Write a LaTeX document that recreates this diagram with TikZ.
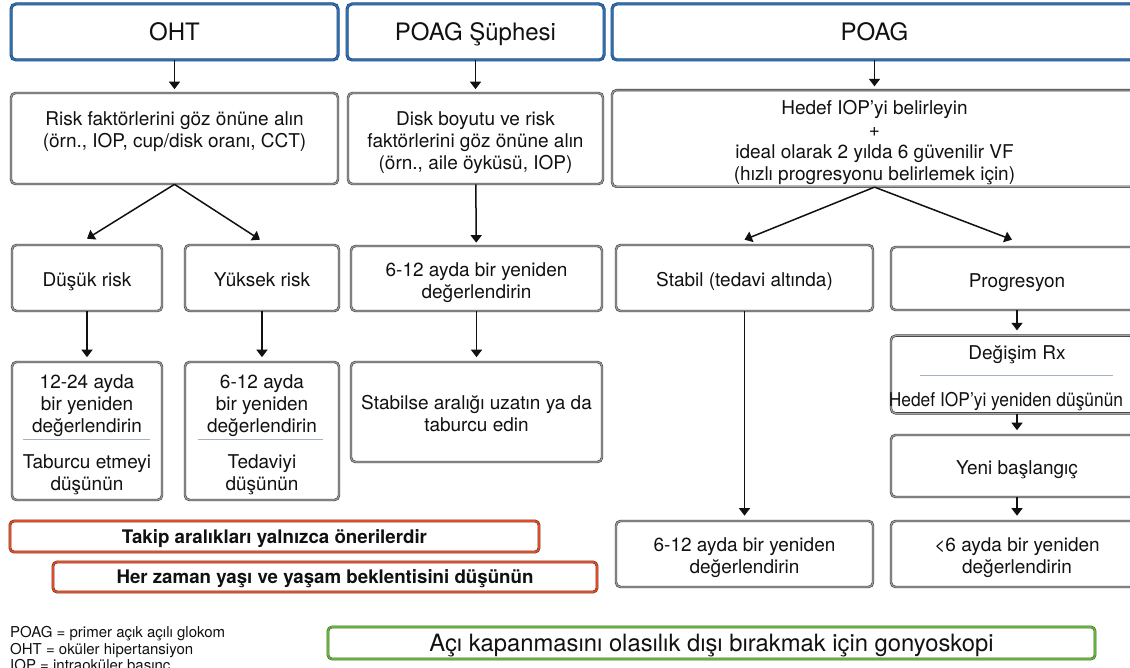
\documentclass[tikz,border=0pt]{standalone}
\usepackage{fontspec}
\usepackage{graphicx}
\setmainfont{TeX Gyre Heros}
\usetikzlibrary{arrows.meta,calc}

\definecolor{hdrout}{HTML}{1B4675}
\definecolor{hdrin}{HTML}{2E6DB0}
\definecolor{grayout}{HTML}{3E3E3E}
\definecolor{grayin}{HTML}{A4A4A4}
\definecolor{orout}{HTML}{6E2411}
\definecolor{orin}{HTML}{DE4E26}
\definecolor{gnout}{HTML}{2D6518}
\definecolor{gnin}{HTML}{68B03C}
\definecolor{sepline}{HTML}{A3B1C0}
\definecolor{ink}{HTML}{111111}

% centred lines for the grey boxes, first row padded so the text sits slightly low
\newcommand{\boxlines}[1]{\begin{tabular}{@{}c@{}}\rule{0pt}{24pt}#1\end{tabular}}

\tikzset{
  hdr/.style={draw=hdrout, double=hdrin, double distance=1.6pt, line width=0.7pt,
    rounded corners=5pt, fill=white, inner sep=0pt, text=ink,
    text height=17.2pt, text depth=0pt,
    font=\fontsize{24}{28}\selectfont},
  gbox/.style={draw=grayout, double=grayin, double distance=1.1pt, line width=0.65pt,
    rounded corners=4.5pt, fill=white, inner sep=0pt, text=ink,
    font=\fontsize{19}{22}\selectfont},
  obox/.style={draw=orout, double=orin, double distance=1.6pt, line width=0.55pt,
    rounded corners=4pt, fill=white, inner sep=0pt, text=ink,
    text height=13.5pt, text depth=0pt,
    font=\bfseries\fontsize{18.7}{22}\selectfont},
  gnbox/.style={draw=gnout, double=gnin, double distance=1.6pt, line width=0.5pt,
    rounded corners=4pt, fill=white, inner sep=0pt, text=ink,
    text height=17pt, text depth=0pt,
    font=\fontsize{23.8}{28}\selectfont},
  arr/.style={-{Triangle[length=7.5pt,width=11pt]}, line width=1.5pt, draw=ink},
  sep/.style={draw=sepline, line width=0.9pt},
  legend/.style={anchor=north west, align=left, inner sep=0pt, text=ink,
    font=\fontsize{15}{16.7}\selectfont}
}

\begin{document}
\begin{tikzpicture}[x=1pt,y=-1pt]
\useasboundingbox (0,0) rectangle (1130,668);
\clip (0,0) rectangle (1130,668);
\fill[white] (0,0) rectangle (1130,668);

% column headers
\node[hdr, minimum width=327, minimum height=56] (hOHT)  at (174.5,32) {OHT};
\node[hdr, minimum width=257, minimum height=56] (hSus)  at (475.5,32) {POAG Şüphesi};
\node[hdr, minimum width=525, minimum height=56] (hPOAG) at (874.5,32) {POAG};

% first assessment step
\node[gbox, minimum width=327, minimum height=91] (risk) at (174.5,138.5)
  {\boxlines{Risk faktörlerini göz önüne alın\\(örn., IOP, cup/disk oranı, CCT)\\\strut}};
\node[gbox, minimum width=255, minimum height=91] (disk) at (475.5,138.5)
  {\boxlines{Disk boyutu ve risk\\faktörlerini göz önüne alın\\(örn., aile öyküsü, IOP)}};
\node[gbox, minimum width=525, minimum height=91] (hedef) at (874.5,138.5)
  {\boxlines{Hedef IOP’yi belirleyin\\+\\ideal olarak 2 yılda 6 güvenilir VF\\(hızlı progresyonu belirlemek için)}};

% branches
\node[gbox, minimum width=150, minimum height=66] (dusuk)  at (87,278)    {\boxlines{Düşük risk}};
\node[gbox, minimum width=154, minimum height=66] (yuksek) at (262,278)   {\boxlines{Yüksek risk}};
\node[gbox, minimum width=251, minimum height=65] (susre)  at (476.5,278.5)
  {\boxlines{6-12 ayda bir yeniden\\değerlendirin}};
\node[gbox, minimum width=257, minimum height=66] (stabil) at (744.5,278) {\boxlines{Stabil (tedavi altında)}};
\node[gbox, minimum width=252, minimum height=63] (prog)   at (1017,278.5) {\boxlines{Progresyon}};

% follow-up boxes
\node[gbox, minimum width=150, minimum height=138] (dusuk4) at (87,431)
  {\boxlines{12-24 ayda\\bir yeniden\\değerlendirin\\[14pt]Taburcu etmeyi\\düşünün}};
\node[gbox, minimum width=154, minimum height=138] (yuksek4) at (262,431)
  {\boxlines{6-12 ayda\\bir yeniden\\değerlendirin\\[14pt]Tedaviyi\\düşünün}};
\node[gbox, minimum width=251, minimum height=100] (stabilse) at (476.5,412)
  {\boxlines{Stabilse aralığı uzatın ya da\\taburcu edin}};
\node[gbox, minimum width=252, minimum height=77] (degisim) at (1017,374.5)
  {\boxlines{Değişim Rx\\[25pt]\hspace*{-22pt}\scalebox{0.915}[1]{Hedef IOP’yi yeniden düşünün}}};
\node[gbox, minimum width=252, minimum height=62] (yeni) at (1017,466) {\boxlines{Yeni başlangıç}};
\node[gbox, minimum width=257, minimum height=66] (stabilbot) at (744.5,554)
  {\boxlines{6-12 ayda bir yeniden\\değerlendirin}};
\node[gbox, minimum width=252, minimum height=66] (alt6) at (1017,554)
  {\boxlines{\textless6 ayda bir yeniden\\değerlendirin}};

% dividers inside the split boxes
\draw[sep] ($(dusuk4.west)+(11,8)$) -- ($(dusuk4.east)+(-12,8)$);
\draw[sep] ($(yuksek4.west)+(13,8)$) -- ($(yuksek4.east)+(-16,8)$);
\draw[sep] ($(degisim.west)+(29,0.5)$) -- ($(degisim.east)+(-30,0.5)$);

% notes
\node[obox, minimum width=529, minimum height=31] (takip) at (274.5,536.5)
  {Takip aralıkları yalnızca önerilerdir};
\node[obox, minimum width=544, minimum height=30] (herzaman) at (325,577)
  {Her zaman yaşı ve yaşam beklentisini düşünün};
\node[gnbox, minimum width=767, minimum height=32] (gonyo) at (711.5,643)
  {Açı kapanmasını olasılık dışı bırakmak için gonyoskopi};

\node[legend] (abbr) at (10,626)
  {POAG = primer açık açılı glokom\\OHT = oküler hipertansiyon\\IOP = intraoküler basınç};

% connectors
\draw[arr, shorten >=3.5pt] (hOHT) -- (risk);
\draw[arr, shorten >=3.5pt] (hSus) -- (disk);
\draw[arr, shorten >=3.5pt] (hPOAG) -- (hedef);

\draw[arr] (risk.south) -- ([yshift=6pt]dusuk.north);
\draw[arr] (risk.south) -- ([xshift=-2pt,yshift=5pt]yuksek.north);
\draw[arr, shorten >=4.5pt] (dusuk) -- (dusuk4);
\draw[arr, shorten >=4.5pt] (yuksek) -- (yuksek4);

\draw[arr, shorten >=3pt] (disk) -- (susre);
\draw[arr, shorten >=4.5pt] (susre) -- (stabilse);

\draw[arr] (hedef.south) -- ([yshift=5pt]stabil.north);
\draw[arr] (hedef.south) -- ([xshift=-5pt,yshift=7pt]prog.north);
\draw[arr, shorten >=5pt] (stabil) -- (stabilbot);
\draw[arr, shorten >=5pt] (prog) -- (degisim);
\draw[arr, shorten >=4.5pt] (degisim) -- (yeni);
\draw[arr, shorten >=5pt] (yeni) -- (alt6);
\end{tikzpicture}
\end{document}
